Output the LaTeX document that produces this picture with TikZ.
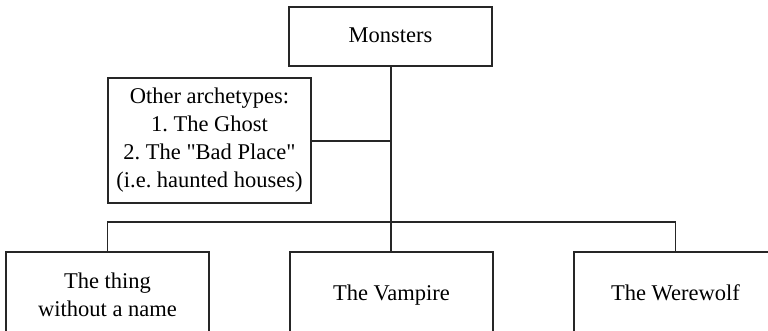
\documentclass[tikz,border=0pt]{standalone}
\usepackage{fontspec}
\setmainfont{Liberation Serif}
\frenchspacing
\begin{document}
\begin{tikzpicture}[x=1pt,y=1pt,
  box/.style={draw=black!85,line width=1.5pt,fill=white,minimum width=203pt,align=center,inner sep=0pt,
    font=\fontsize{22.5}{28}\selectfont},
  link/.style={draw=black!85,line width=1.5pt}]
\useasboundingbox (0,0) rectangle (768,331);
\clip (0,0) rectangle (768,331);
\node[box,minimum height=59pt] (mon) at (390.5,294.5) {Monsters\strut};
\node[box,minimum height=125pt] (oth) at (209.5,190.5) {Other archetypes:\\1. The Ghost\\2. The \textquotedbl Bad Place\textquotedbl\\(i.e. haunted houses)};
\node[box,minimum height=86pt] (thing) at (107.5,36) {The thing\\without a name};
\node[box,minimum height=86pt] (vamp) at (391.5,36) {The Vampire\strut};
\node[box,minimum height=86pt] (were) at (675.5,36) {The Werewolf\strut};
\coordinate (j1) at (391,190);
\coordinate (j2) at (391,109);
\draw[link] (mon.south -| j1) -- (j2);
\draw[link] (oth.east |- j1) -- (j1);
\draw[link] (thing.north) |- (j2) -| (were.north);
\draw[link] (j2) -- (vamp.north -| j2);
\end{tikzpicture}
\end{document}
